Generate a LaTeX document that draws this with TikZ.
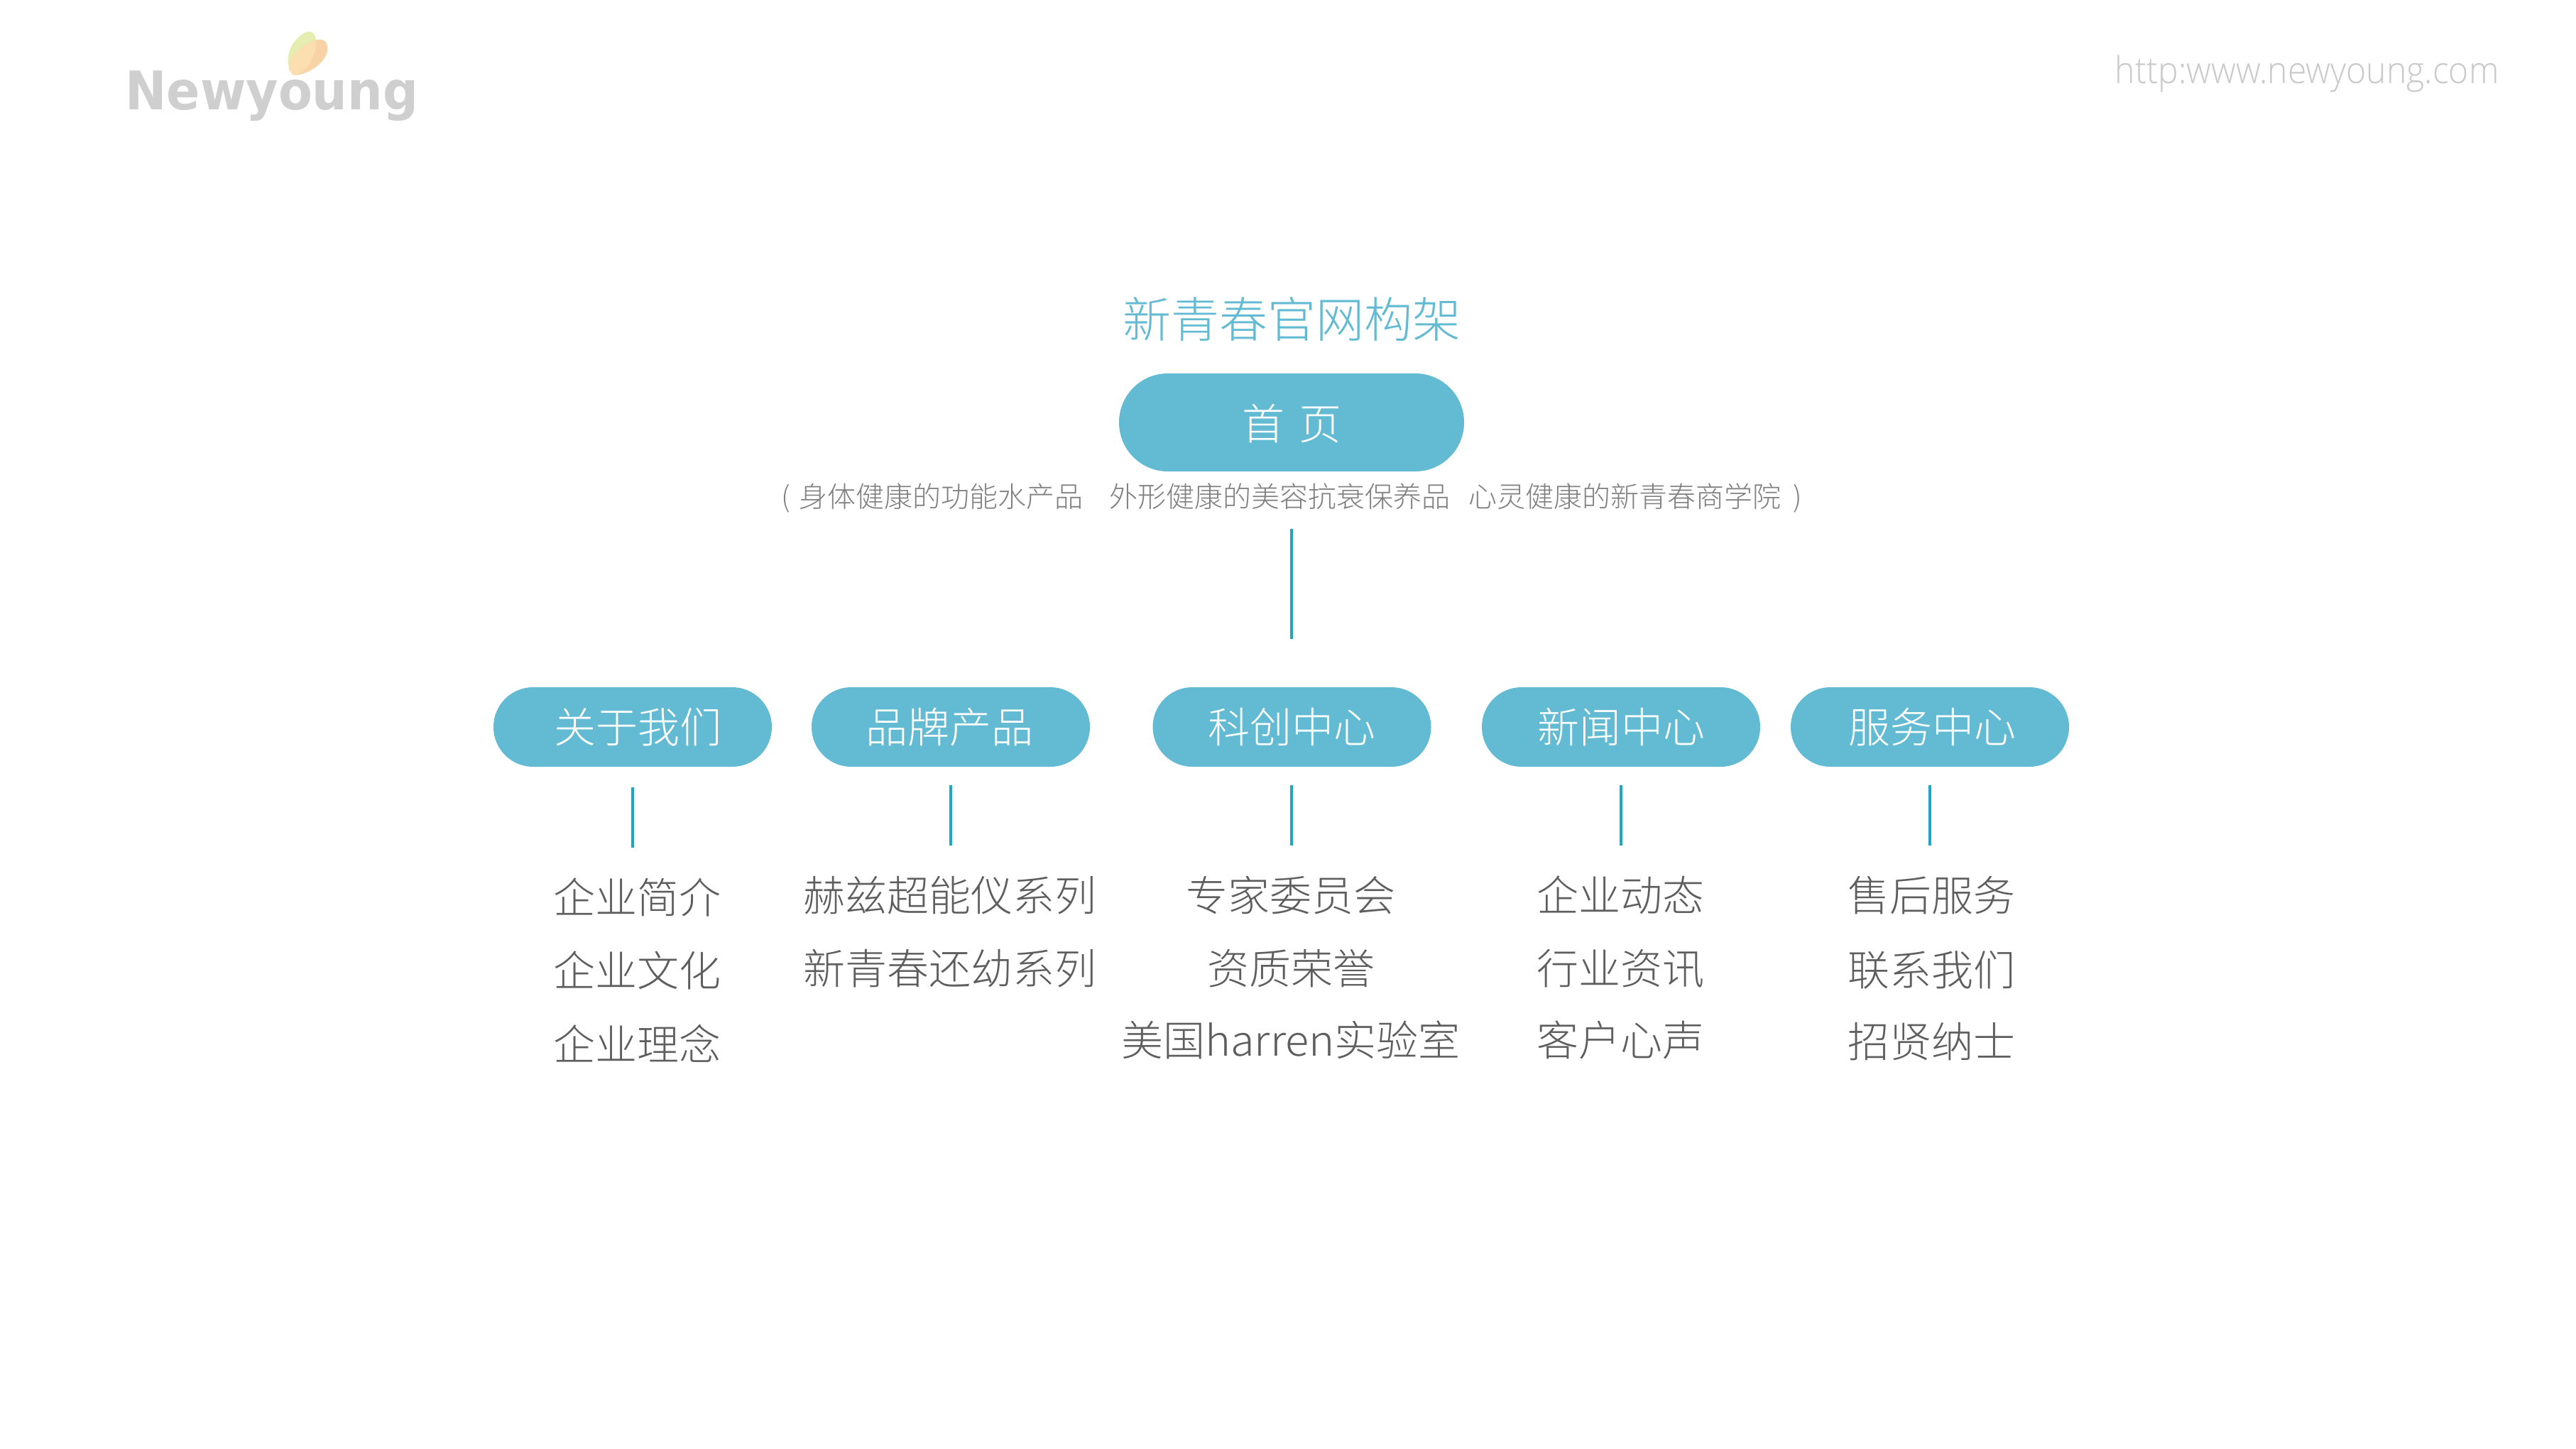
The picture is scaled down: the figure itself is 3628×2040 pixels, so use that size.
\documentclass[tikz,border=0pt]{standalone}
\usepackage{fontspec}
\setmainfont{Noto Sans CJK SC}[UprightFont=* Light]
\newfontfamily\logofont{DejaVu Sans}[UprightFont=* Bold]
\newfontfamily\urlfont{Open Sans}[UprightFont=* Light]
\definecolor{pill}{HTML}{62BBD3}
\definecolor{link}{HTML}{1FA6C6}
\definecolor{itemtxt}{HTML}{5E5E5E}
\definecolor{subtxt}{HTML}{808080}
\newcommand{\fsz}[1]{\fontsize{#1}{#1}\selectfont}
\tikzset{
  x=0.5pt,y=-0.5pt,
  txt/.style={inner sep=0pt,anchor=center},
  pillbig/.style={txt,fill=pill,text=white,minimum width=243pt,minimum height=69pt,rounded corners=34.4pt,font=\fsz{30}},
  pillsmall/.style={txt,fill=pill,text=white,minimum width=196pt,minimum height=56pt,rounded corners=27.9pt,font=\fsz{29.5}},
  item/.style={txt,text=itemtxt,font=\fsz{29.5}},
  linkline/.style={draw=link,line width=2pt},
}
\begin{document}
\begin{tikzpicture}
\useasboundingbox (0,0) rectangle (3628,2040);
\fill[white] (0,0) rectangle (3628,2040);
% logo
\node[txt,anchor=base west,text=black!19] (logo) at (176,154) {\logofont\fsz{37.5}\scalebox{0.93}[1]{Newyoung}};
\path[fill={rgb,255:red,229;green,238;blue,176}] (415,106) .. controls (402,100) and (402,70) .. (418,55) .. controls (428,44) and (441,38) .. (445,55) .. controls (448,75) and (430,105) .. (415,106) -- cycle;
\path[fill={rgb,255:red,248;green,211;blue,166}] (415,106) .. controls (400,100) and (405,75) .. (440,58) .. controls (452,53) and (463,55) .. (461,72) .. controls (458,88) and (435,105) .. (415,106) -- cycle;
\begin{scope}
\clip (415,106) .. controls (402,100) and (402,70) .. (418,55) .. controls (428,44) and (441,38) .. (445,55) .. controls (448,75) and (430,105) .. (415,106) -- cycle;
\path[fill={rgb,255:red,251;green,223;blue,176}] (415,106) .. controls (400,100) and (405,75) .. (440,58) .. controls (452,53) and (463,55) .. (461,72) .. controls (458,88) and (435,105) .. (415,106) -- cycle;
\end{scope}
\node[txt,anchor=base east,text=black!21] (url) at (3520,117) {\urlfont\fsz{26}\scalebox{0.926}[1]{http:www.newyoung.com}};
% title
\node[txt,text=pill] (title) at (1819,450) {\fsz{34}新青春官网构架};
\node[pillbig] (home) at (1819,595) {\raisebox{-1pt}[\height][\depth]{首\hspace{10pt}页}};
\node[txt,text=subtxt] (sub) at (1819.5,701) {\fsz{20}(\hspace{6pt}身体健康的功能水产品\hspace{18.6pt}外形健康的美容抗衰保养品\hspace{12.9pt}心灵健康的新青春商学院\hspace{8.9pt})};
\coordinate (m1) at (1819,745);
\coordinate (m2) at (1819,900);
\draw[linkline] (m1) -- (m2);
% second level
\node[pillsmall] (a) at (891,1024) {\hspace{7pt}关于我们};
\node[pillsmall] (b) at (1339,1024) {\hspace{-2pt}品牌产品};
\node[pillsmall] (c) at (1819.5,1024) {科创中心};
\node[pillsmall] (d) at (2283,1024) {新闻中心};
\node[pillsmall] (e) at (2718,1024) {\hspace{3pt}服务中心};
\coordinate (a1) at (891,1109); \coordinate (a2) at (891,1194);
\coordinate (b1) at (1339,1106); \coordinate (b2) at (1339,1191);
\coordinate (c1) at (1819,1106); \coordinate (c2) at (1819,1191);
\coordinate (d1) at (2283,1106); \coordinate (d2) at (2283,1191);
\coordinate (e1) at (2718,1106); \coordinate (e2) at (2718,1191);
\foreach \n in {a,b,c,d,e} \draw[linkline] (\n1) -- (\n2);
% items
\node[item] (a-i) at (897,1264) {企业简介};
\node[item] (a-ii) at (897,1367) {企业文化};
\node[item] (a-iii) at (897,1470) {企业理念};
\node[item] (b-i) at (1338,1261) {赫兹超能仪系列};
\node[item] (b-ii) at (1338,1364) {新青春还幼系列};
\node[item] (c-i) at (1818,1261) {专家委员会};
\node[item] (c-ii) at (1818,1364) {资质荣誉};
\node[item] (c-iii) at (1818,1465) {美国\scalebox{1.04}[1]{harren}实验室};
\node[item] (d-i) at (2282,1261) {企业动态};
\node[item] (d-ii) at (2282,1364) {行业资讯};
\node[item] (d-iii) at (2282,1465) {客户心声};
\node[item] (e-i) at (2720,1261) {售后服务};
\node[item] (e-ii) at (2720,1366) {联系我们};
\node[item] (e-iii) at (2720,1467) {招贤纳士};
\end{tikzpicture}
\end{document}
